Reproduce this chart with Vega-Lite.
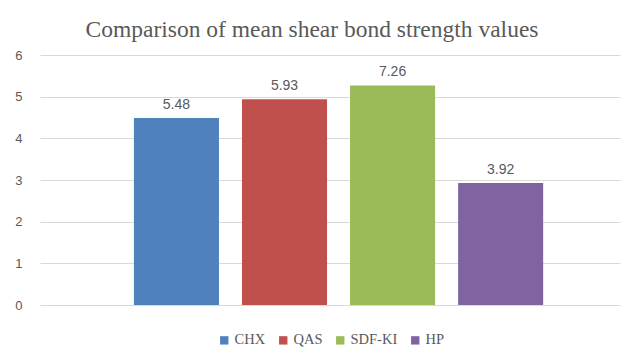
{
  "$schema": "https://vega.github.io/schema/vega-lite/v6.json",
  "autosize": "none",
  "width": 580,
  "height": 250,
  "padding": {"left": 40, "top": 55, "right": 22, "bottom": 45},
  "background": "white",
  "title": {
    "text": "Comparison of mean shear bond strength values",
    "font": "Liberation Serif",
    "fontSize": 23.5,
    "fontWeight": "normal",
    "color": "#595959",
    "anchor": "middle",
    "offset": 8,
    "dx": -18
  },
  "data": {
    "values": [
      {"group": "CHX", "value": 4.49, "label": "5.48"},
      {"group": "QAS", "value": 4.94, "label": "5.93"},
      {"group": "SDF-KI", "value": 5.27, "label": "7.26"},
      {"group": "HP", "value": 2.93, "label": "3.92"}
    ]
  },
  "encoding": {
    "x": {
      "field": "group",
      "type": "nominal",
      "sort": ["CHX", "QAS", "SDF-KI", "HP"],
      "scale": {"paddingInner": 0.213, "paddingOuter": 0.79, "align": 0.55},
      "axis": null
    },
    "y": {
      "field": "value",
      "type": "quantitative",
      "scale": {"domain": [0, 6], "nice": false},
      "axis": {
        "values": [0, 1, 2, 3, 4, 5, 6],
        "labelOverlap": false,
        "domain": false,
        "ticks": false,
        "grid": true,
        "gridColor": "#D9D9D9",
        "gridWidth": 1,
        "labelColor": "#595959",
        "labelFont": "Liberation Sans",
        "labelFontSize": 13,
        "labelPadding": 18,
        "title": null
      }
    }
  },
  "layer": [
    {
      "mark": {"type": "bar"},
      "encoding": {
        "color": {
          "field": "group",
          "type": "nominal",
          "sort": ["CHX", "QAS", "SDF-KI", "HP"],
          "scale": {
            "domain": ["CHX", "QAS", "SDF-KI", "HP"],
            "range": ["#4F81BD", "#C0504D", "#9BBB59", "#8064A2"]
          },
          "legend": {
            "orient": "none",
            "direction": "horizontal",
            "legendX": 177,
            "legendY": 278,
            "title": null,
            "symbolType": "square",
            "symbolSize": 70,
            "symbolStrokeWidth": 0,
            "labelFont": "Liberation Serif",
            "labelFontSize": 14.5,
            "labelColor": "#595959",
            "columnPadding": 10,
            "labelOffset": 3
          }
        }
      }
    },
    {
      "mark": {
        "type": "text",
        "baseline": "bottom",
        "dy": -6,
        "font": "Liberation Sans",
        "fontSize": 14,
        "color": "#595959"
      },
      "encoding": {"text": {"field": "label", "type": "nominal"}}
    }
  ],
  "config": {"view": {"stroke": null}}
}
